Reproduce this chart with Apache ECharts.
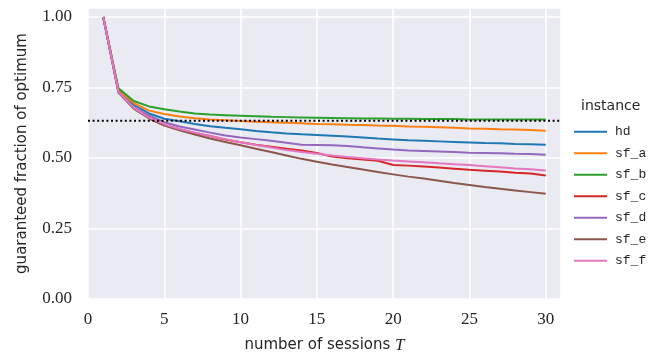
<!DOCTYPE html>
<html>
<head>
<meta charset="utf-8">
<script src="https://cdn.jsdelivr.net/npm/echarts@6/dist/echarts.min.js"></script>
<style>
    html, body { margin: 0; padding: 0; background: #fff; }
    #chart { width: 660px; height: 360px; }
</style>
</head>
<body>
<div id="chart"></div>
<script>
// sessions T = 1..30
const sessions = [];
for (let t = 1; t <= 30; t++) sessions.push(t);

const instances = ["hd", "sf_a", "sf_b", "sf_c", "sf_d", "sf_e", "sf_f"];
const colors = ["#1f77b4", "#ff7f0e", "#2ca02c", "#d62728", "#9467bd", "#8c564b", "#e377c2"];

const hd = [1.0, 0.735, 0.688, 0.658, 0.639, 0.63, 0.621, 0.613, 0.607, 0.602,
    0.596, 0.591, 0.587, 0.584, 0.582, 0.579, 0.576, 0.573, 0.569, 0.566,
    0.563, 0.561, 0.559, 0.557, 0.555, 0.553, 0.552, 0.55, 0.549, 0.547];
const sf_a = [1.0, 0.74, 0.695, 0.668, 0.656, 0.647, 0.641, 0.637, 0.634, 0.631,
    0.629, 0.627, 0.625, 0.623, 0.621, 0.62, 0.618, 0.617, 0.615, 0.614,
    0.612, 0.611, 0.609, 0.607, 0.605, 0.604, 0.602, 0.601, 0.599, 0.597];
const sf_b = [1.0, 0.747, 0.702, 0.683, 0.673, 0.665, 0.658, 0.654, 0.652, 0.65,
    0.648, 0.646, 0.645, 0.644, 0.643, 0.642, 0.641, 0.64, 0.64, 0.639,
    0.639, 0.638, 0.638, 0.638, 0.637, 0.637, 0.637, 0.637, 0.637, 0.637];
const sf_c = [1.0, 0.733, 0.676, 0.642, 0.617, 0.602, 0.589, 0.578, 0.566, 0.556,
    0.547, 0.54, 0.533, 0.527, 0.518, 0.505, 0.499, 0.495, 0.49, 0.475,
    0.473, 0.47, 0.466, 0.462, 0.458, 0.455, 0.452, 0.448, 0.445, 0.438];
const sf_d = [1.0, 0.733, 0.68, 0.65, 0.627, 0.612, 0.601, 0.59, 0.58, 0.573,
    0.567, 0.561, 0.554, 0.547, 0.546, 0.545, 0.543, 0.538, 0.534, 0.53,
    0.527, 0.525, 0.523, 0.521, 0.519, 0.518, 0.517, 0.515, 0.514, 0.512];
const sf_e = [1.0, 0.732, 0.675, 0.64, 0.615, 0.598, 0.583, 0.569, 0.557, 0.545,
    0.533, 0.521, 0.509, 0.497, 0.487, 0.477, 0.468, 0.459, 0.45, 0.442,
    0.434, 0.427, 0.419, 0.411, 0.404, 0.397, 0.391, 0.385, 0.379, 0.373];
const sf_f = [1.0, 0.735, 0.678, 0.643, 0.62, 0.603, 0.59, 0.578, 0.567, 0.556,
    0.546, 0.537, 0.528, 0.521, 0.515, 0.509, 0.504, 0.499, 0.495, 0.491,
    0.488, 0.485, 0.481, 0.478, 0.475, 0.471, 0.467, 0.463, 0.46, 0.456];

const values = [hd, sf_a, sf_b, sf_c, sf_d, sf_e, sf_f];
const bound = 1 - 1 / Math.E;

const xTicks = [0, 5, 10, 15, 20, 25, 30];
const yTicks = [0, 0.25, 0.5, 0.75, 1.0];

const textColor = "#262626";
const serif = "Liberation Serif";

let series = instances.map((name, i) => ({
    name: name,
    type: "line",
    symbol: "none",
    data: sessions.map((t, j) => [t, values[i][j]]),
    lineStyle: { width: 2, color: colors[i] },
    itemStyle: { color: colors[i] },
}));
series.push({
    name: "bound",
    type: "line",
    symbol: "none",
    silent: true,
    data: [[0, bound], [31, bound]],
    lineStyle: { width: 2, color: "#000", type: [2, 2.6] },
    z: 5,
});

let chart = echarts.init(document.getElementById("chart"));
chart.setOption({
    animation: false,
    title: {
        text: "instance",
        left: 576,
        top: 94,
        textStyle: { fontFamily: "DejaVu Sans", fontSize: 14, fontWeight: "normal", color: textColor },
    },
    legend: {
        data: instances,
        orient: "vertical",
        left: 569,
        top: 116,
        itemGap: 0,
        itemWidth: 33,
        itemHeight: 2,
        icon: "rect",
        textStyle: {
            fontFamily: "Liberation Mono",
            fontSize: 13,
            color: textColor,
            lineHeight: 21.5,
            padding: [0, 0, 0, 3],
        },
    },
    grid: {
        left: 88,
        right: 99,
        top: 8,
        bottom: 61,
        show: true,
        backgroundColor: "#EAEAF2",
        borderWidth: 0,
    },
    xAxis: {
        type: "value",
        min: 0,
        max: 31,
        interval: 5,
        name: "number of sessions {i|T}",
        nameLocation: "middle",
        nameGap: 38,
        nameTextStyle: {
            fontFamily: "DejaVu Sans",
            fontSize: 15,
            color: textColor,
            rich: { i: { fontFamily: serif, fontStyle: "italic", fontSize: 17, color: textColor } },
        },
        axisLine: { show: false },
        axisTick: { show: false },
        axisLabel: {
            margin: 12,
            fontFamily: serif,
            fontSize: 17,
            color: textColor,
            formatter: (v) => (xTicks.includes(v) ? String(v) : ""),
        },
        splitLine: { show: true, lineStyle: { color: "#fff", width: 1.5 } },
    },
    yAxis: {
        type: "value",
        min: 0,
        max: 1.032,
        interval: 0.25,
        name: "guaranteed fraction of optimum",
        nameLocation: "middle",
        nameGap: 58,
        nameTextStyle: { fontFamily: "DejaVu Sans", fontSize: 15, color: textColor },
        axisLine: { show: false },
        axisTick: { show: false },
        axisLabel: {
            margin: 16,
            fontFamily: serif,
            fontSize: 17,
            color: textColor,
            formatter: (v) => (yTicks.some((t) => Math.abs(t - v) < 1e-9) ? v.toFixed(2) : ""),
        },
        splitLine: { show: true, lineStyle: { color: "#fff", width: 1.5 } },
    },
    series: series,
});
</script>
</body>
</html>
